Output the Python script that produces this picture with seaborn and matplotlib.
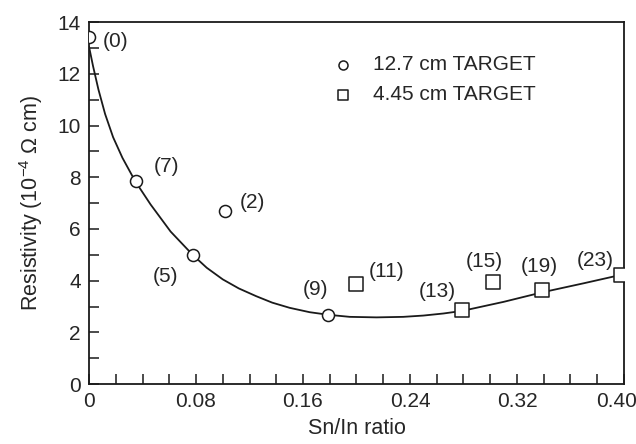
import matplotlib
matplotlib.use("Agg")
import matplotlib.pyplot as plt
import matplotlib.transforms as mtransforms
import seaborn as sns
import pandas as pd
from matplotlib.ticker import MultipleLocator

# Measured samples (Sn/In ratio, resistivity in 1e-4 ohm cm)
circle_x = [0.0, 0.035, 0.102, 0.0775, 0.179]
circle_y = [13.42, 7.85, 6.68, 5.0, 2.67]
circle_labels = ["(0)", "(7)", "(2)", "(5)", "(9)"]

square_x = [0.2, 0.279, 0.302, 0.339, 0.398]
square_y = [3.86, 2.86, 3.94, 3.63, 4.21]
square_labels = ["(11)", "(13)", "(15)", "(19)", "(23)"]

# Hand-drawn trend curve
curve_x = [0.0, 0.003, 0.007, 0.012, 0.018, 0.025, 0.0345, 0.046, 0.061,
           0.0775, 0.088, 0.100, 0.112, 0.125, 0.137, 0.150, 0.165, 0.179,
           0.195, 0.215, 0.235, 0.25, 0.265, 0.279, 0.31, 0.339, 0.37, 0.40]
curve_y = [13.05, 12.3, 11.4, 10.45, 9.55, 8.75, 7.85, 6.95, 5.9,
           5.0, 4.5, 4.05, 3.7, 3.4, 3.15, 2.95, 2.78, 2.68,
           2.6, 2.58, 2.6, 2.65, 2.73, 2.83, 3.18, 3.55, 3.9, 4.25]

x_ticks = [0, 0.08, 0.16, 0.24, 0.32, 0.40]
x_ticklabels = ["0", "0.08", "0.16", "0.24", "0.32", "0.40"]
y_ticks = [0, 2, 4, 6, 8, 10, 12, 14]

# Label offsets in pixels (dx, dy) from each marker
circle_offsets = [(27, -4), (31, 15), (27, 9), (-27, -22), (-13, 26)]
square_offsets = [(30, 13), (-25, 19), (-9, 21), (-3, 24), (-26, 15)]

sns.set_style("white")
plt.rcParams["font.family"] = ["Liberation Sans", "DejaVu Sans"]
plt.rcParams["mathtext.fontset"] = "custom"
plt.rcParams["mathtext.rm"] = "Liberation Sans"
plt.rcParams["mathtext.it"] = "Liberation Sans:italic"

TEXT = "#262626"
FS = 15
FS_AX = 15.5

fig = plt.figure(figsize=(6.36, 4.44), dpi=100)
ax = fig.add_axes([0.140, 0.135, 0.841, 0.815])

curve_df = pd.DataFrame({"x": curve_x, "y": curve_y})
sns.lineplot(data=curve_df, x="x", y="y", ax=ax, sort=False, estimator=None,
             color="#1a1a1a", linewidth=1.3, zorder=2)

circ_df = pd.DataFrame({"x": circle_x, "y": circle_y})
sq_df = pd.DataFrame({"x": square_x, "y": square_y})
sns.scatterplot(data=circ_df, x="x", y="y", ax=ax, marker="o", s=75,
                facecolor="white", edgecolor="#1a1a1a", linewidth=1.1,
                zorder=3, label="12.7 cm TARGET")
sns.scatterplot(data=sq_df, x="x", y="y", ax=ax, marker="s", s=95,
                facecolor="white", edgecolor="#1a1a1a", linewidth=1.1,
                zorder=3, label="4.45 cm TARGET")

for xs, ys, labs, offs in [(circle_x, circle_y, circle_labels, circle_offsets),
                           (square_x, square_y, square_labels, square_offsets)]:
    for x, y, lab, (dx, dy) in zip(xs, ys, labs, offs):
        ax.annotate(lab, (x, y), xytext=(dx, dy), textcoords="offset pixels",
                    ha="center", va="center", fontsize=FS, color=TEXT)

ax.set_xlim(0, 0.40)
ax.set_ylim(0, 14)
ax.set_xticks(x_ticks)
ax.set_xticklabels(x_ticklabels)
ax.set_yticks(y_ticks)
ax.xaxis.set_minor_locator(MultipleLocator(0.02))
ax.yaxis.set_minor_locator(MultipleLocator(1))
ax.tick_params(axis="both", which="both", direction="in", length=7,
               width=1.1, color="#1a1a1a", top=False, right=False,
               bottom=True, left=True, labelsize=FS, labelcolor=TEXT, pad=6)

# keep the last x label inside the canvas
last = ax.get_xticklabels()[-1]
last.set_transform(last.get_transform() +
                   mtransforms.ScaledTranslation(-0.07, 0, fig.dpi_scale_trans))

for sp in ax.spines.values():
    sp.set_visible(True)
    sp.set_linewidth(1.3)
    sp.set_color("#1a1a1a")

ax.set_xlabel("Sn/In ratio", fontsize=FS_AX, color=TEXT, labelpad=5)
ax.set_ylabel("Resistivity (10$^{-4}$ Ω cm)", fontsize=FS_AX, color=TEXT,
              labelpad=9)

leg = ax.legend(loc="center left", bbox_to_anchor=(0.455, 0.841),
                frameon=False, fontsize=FS, borderpad=0, borderaxespad=0,
                handlelength=1.0, handletextpad=0.95, labelspacing=0.55,
                markerscale=0.75)
for t in leg.get_texts():
    t.set_color(TEXT)

fig.savefig("out.png", dpi=100)
